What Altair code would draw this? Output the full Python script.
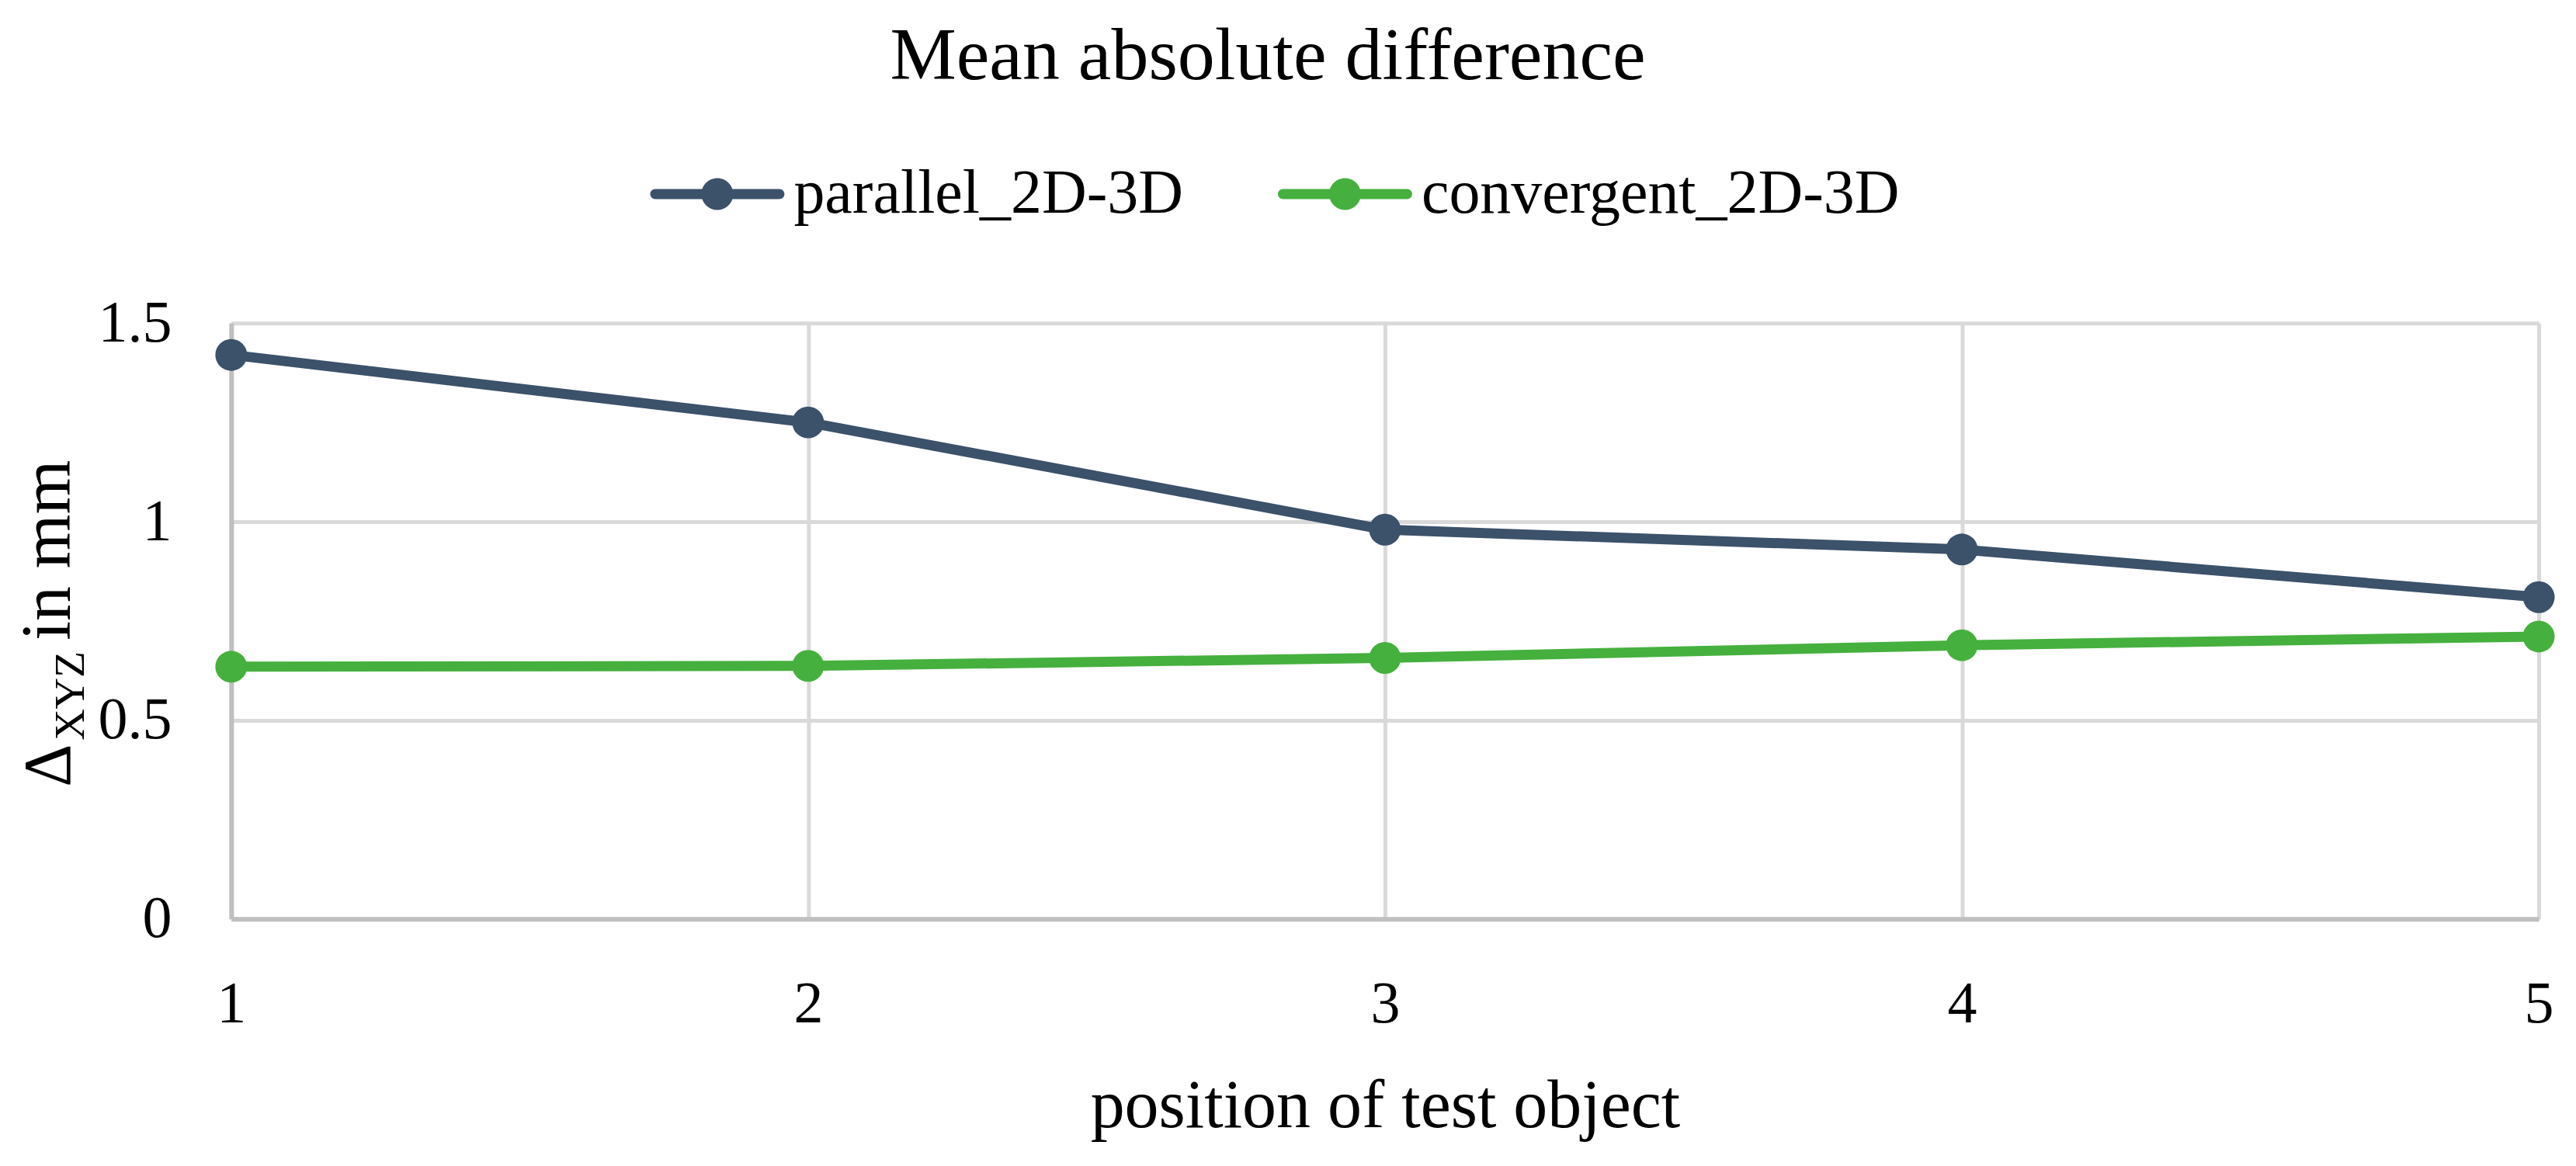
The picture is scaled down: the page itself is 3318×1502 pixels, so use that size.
import altair as alt
import pandas as pd

positions = [1, 2, 3, 4, 5]
parallel = [1.42, 1.25, 0.98, 0.93, 0.81]
convergent = [0.635, 0.637, 0.657, 0.689, 0.711]
series_names = ["parallel_2D-3D", "convergent_2D-3D"]
series_colors = ["#3C516A", "#46B03E"]
y_ticks = [0, 0.5, 1, 1.5]
title_text = "Mean absolute difference"
x_title = "position of test object"
y_title_parts = ["Δ", "XYZ", "in mm"]

rows = []
for name, vals in zip(series_names, [parallel, convergent]):
    for p, v in zip(positions, vals):
        rows.append({"position": p, "value": v, "series": name})
df = pd.DataFrame(rows)

FONT = "Liberation Serif"
W, H = 2974, 768

LEG_PATH = ("M -0.925 -0.075 L 0.925 -0.075 A 0.075 0.075 0 0 1 0.925 0.075 "
            "L -0.925 0.075 A 0.075 0.075 0 0 1 -0.925 -0.075 Z "
            "M -0.237 0 A 0.237 0.237 0 1 1 0.237 0 A 0.237 0.237 0 1 1 -0.237 0 Z")

x_enc = alt.X(
    "position:Q",
    scale=alt.Scale(domain=[1, 5], nice=False, zero=False),
    axis=alt.Axis(
        values=positions, format="d", title=x_title,
        grid=True, gridColor="#D9D9D9", gridWidth=5,
        domainColor="#BFBFBF", domainWidth=6,
        ticks=False, tickSize=0,
        labelFont=FONT, labelFontSize=76, labelColor="black",
        labelPadding=133, labelBaseline="alphabetic",
        labelFlush=False, labelOverlap=False,
        titleFont=FONT, titleFontSize=88, titleFontWeight="normal",
        titleColor="black", titleBaseline="alphabetic", titleY=268,
    ),
)
y_enc = alt.Y(
    "value:Q",
    scale=alt.Scale(domain=[0, 1.5], nice=False),
    axis=alt.Axis(
        values=y_ticks, format="~g", title=None,
        grid=True, gridColor="#D9D9D9", gridWidth=5,
        domainColor="#BFBFBF", domainWidth=6,
        ticks=False, tickSize=0,
        labelFont=FONT, labelFontSize=76, labelColor="black",
        labelPadding=77, labelFlush=False, labelOverlap=False,
    ),
)
color_scale = alt.Scale(domain=series_names, range=series_colors)

points = alt.Chart(df).mark_point(filled=True, size=1681, opacity=1, strokeWidth=0).encode(
    x=x_enc, y=y_enc,
    color=alt.Color(
        "series:N", scale=color_scale,
        legend=alt.Legend(
            title=None, orient="none", legendX=540, legendY=-253,
            direction="horizontal", symbolType=LEG_PATH, symbolSize=29929,
            symbolStrokeWidth=0, symbolOpacity=1,
            labelFont=FONT, labelFontSize=80, labelColor="black",
            labelOffset=12, columnPadding=120, padding=0, labelLimit=0,
        ),
    ),
)
lines = alt.Chart(df).mark_line(strokeWidth=13, strokeJoin="round", strokeCap="round").encode(
    x=x_enc, y=y_enc,
    color=alt.Color("series:N", scale=color_scale),
    order=alt.Order("position:Q"),
)

def label_text(part, size, xv, yv, angle=0, align="left"):
    return alt.Chart(pd.DataFrame({"t": [part]})).mark_text(
        angle=angle, align=align, baseline="alphabetic",
        font=FONT, fontSize=size, color="black",
    ).encode(text="t:N", x=alt.value(xv), y=alt.value(yv))

t1 = label_text(y_title_parts[0], 86, -208, 598, angle=270)
t2 = label_text(y_title_parts[1], 56, -190, 538, angle=270)
t3 = label_text(y_title_parts[2], 90, -208, 409, angle=270)
title_mark = label_text(title_text, 96, 1336, -314, align="center")

chart = alt.layer(points, lines, t1, t2, t3, title_mark).properties(
    width=W, height=H,
    autosize=alt.AutoSizeParams(type="none"),
    padding={"left": 290, "top": 408, "right": 40, "bottom": 300},
).configure_view(strokeWidth=0).configure(background="white")

chart.save("out.html", embed_options={"renderer": "svg", "actions": False})
